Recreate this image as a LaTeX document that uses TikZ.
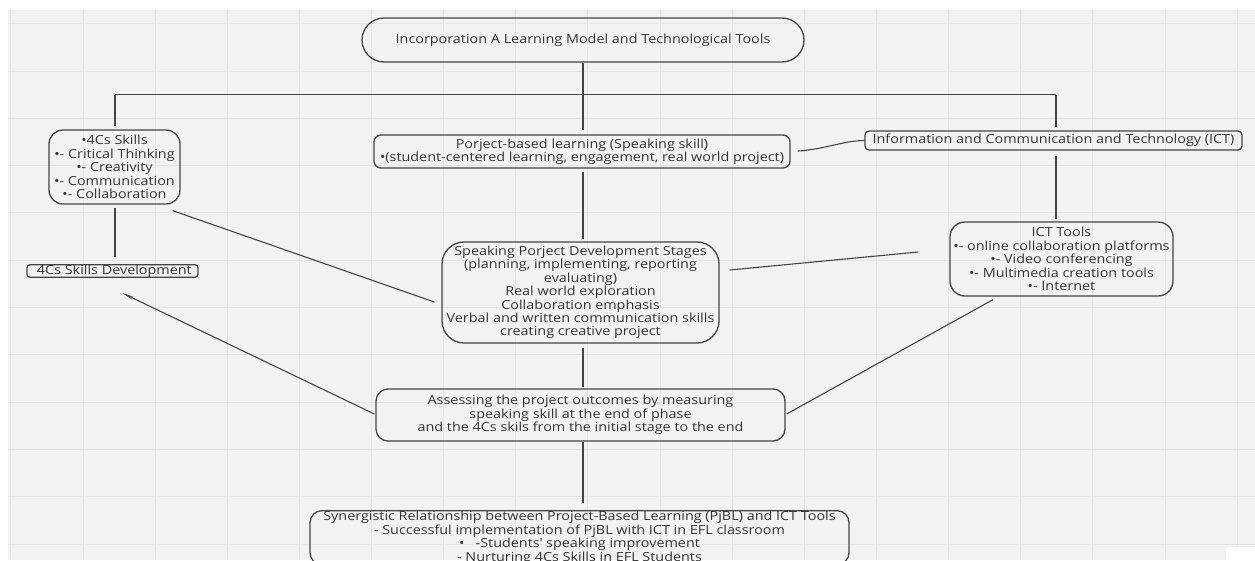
\documentclass[tikz,border=0pt]{standalone}
\usepackage{fontspec}
\setmainfont{Open Sans}[FakeStretch=1.15]
\usetikzlibrary{calc,arrows.meta}
\definecolor{bgc}{HTML}{F2F2F2}
\definecolor{gridc}{HTML}{E3E3E3}
\definecolor{linec}{HTML}{444444}
\definecolor{textc}{HTML}{333333}
\begin{document}
\begin{tikzpicture}[x=1pt,y=-1pt,
  box/.style={draw=linec, line width=1.3pt, text=textc, align=center, inner sep=0pt,
    font=\fontsize{12.5}{13.4}\selectfont},
  conn/.style={draw=linec, line width=1.1pt},
  trunk/.style={draw=linec, line width=1.6pt}]
\useasboundingbox (0,0) rectangle (1255,560);
\clip (0,0) rectangle (1255,560);
\fill[white] (0,0) rectangle (1255,560);
\fill[bgc] (8,10) rectangle (1255,560);
\foreach \i in {0,...,17} \draw[gridc, line width=0.9pt] ({10.9+72.13*\i},10) -- ++(0,550);
\foreach \j in {0,...,11} \draw[gridc, line width=0.9pt] (8,{23.7+47.3*\j}) -- (1255,{23.7+47.3*\j});
\fill[white, rounded corners=3pt] (1226,547) rectangle (1265,570);

\node[box, rounded corners=22pt, minimum width=442pt, minimum height=44pt] (top) at (583,40)
  {Incorporation A Learning Model and Technological Tools};
\node[box, rounded corners=14pt, minimum width=131pt, minimum height=74pt] (fourc) at (114.5,167)
  {•4Cs Skills\\•- Critical Thinking\\•- Creativity\\•- Communication\\•- Collaboration};
\node[box, rounded corners=3pt, minimum width=171pt, minimum height=12pt] (dev) at (112.5,271)
  {\ 4Cs Skills Development};
\node[box, rounded corners=7pt, minimum width=416pt, minimum height=33pt] (pjbl) at (582,151.5)
  {Porject-based learning (Speaking skill)\\•(student-centered learning, engagement, real world project)};
\node[box, rounded corners=4pt, minimum width=377pt, minimum height=19pt] (ict) at (1053.5,140.5)
  {Information and Communication and Technology (ICT)};
\node[box, rounded corners=15pt, minimum width=223pt, minimum height=74pt] (tools) at (1061.5,259)
  {ICT Tools\\•- online collaboration platforms\\•- Video conferencing\\•- Multimedia creation tools\\•- Internet};
\node[box, rounded corners=22pt, minimum width=277pt, minimum height=101pt] (stages) at (580.5,292.5)
  {Speaking Porject Development Stages\\(planning, implementing, reporting\\evaluating)\\Real world exploration\\Collaboration emphasis\\Verbal and written communication skills\\creating creative project};
\node[box, rounded corners=12pt, minimum width=409pt, minimum height=52pt] (assess) at (580.5,415)
  {Assessing the project outcomes by measuring\\speaking skill at the end of phase\\and the 4Cs skils from the initial stage to the end};
\node[box, rounded corners=12pt, minimum width=539pt, minimum height=54pt, anchor=north] (syn) at (579.5,510)
  {Synergistic Relationship between Project-Based Learning (PjBL) and ICT Tools\\- Successful implementation of PjBL with ICT in EFL classroom\\•~~~-Students\textquotesingle{} speaking improvement\\- Nurturing 4Cs Skills in EFL Students};

\coordinate (j) at (583,94.5);
\coordinate (jl) at (115,94.5);
\coordinate (jr) at (1056,94.5);
\draw[trunk] (jl) -- (jr);
\draw[trunk] (top.south) -- (j);
\fill[linec] (j) circle (1.6pt);
\draw[trunk, shorten >=3pt] (jl) -- (jl |- fourc.north);
\draw[trunk, shorten >=4pt] (j) -- (j |- pjbl.north);
\draw[trunk, shorten >=3pt] (jr) -- (jr |- ict.north);
\draw[trunk, shorten <=3pt, shorten >=7pt] (fourc.south -| jl) -- (dev.north -| jl);
\draw[conn, {Stealth[length=12pt,width=3pt]}-] ($(dev.south)+(9.5,15)$) -- ($(assess.west)+(-1,-1)$);
\draw[conn] ($(fourc.south east)+(-8,6)$) -- ($(stages.west)+(-7,9.5)$);
\draw[conn, shorten <=7pt] (pjbl.east) .. controls +(33,-2) and +(-20,0) .. (ict.west);
\draw[trunk, shorten <=5pt, shorten >=2pt] (jr |- ict.south) -- (jr |- tools.north);
\draw[conn] ($(tools.west)+(-31,-7)$) -- ($(stages.east)+(10,-22.5)$);
\draw[conn] ($(tools.south)+(-68.5,3)$) -- ($(assess.east)+(1,-1)$);
\draw[trunk, shorten <=3pt, shorten >=2pt] (j |- pjbl.south) -- (j |- stages.north);
\draw[trunk, shorten <=4pt, shorten >=1pt] (j |- stages.south) -- (j |- assess.north);
\draw[trunk, shorten >=7pt] (j |- assess.south) -- (j |- syn.north);
\end{tikzpicture}
\end{document}
